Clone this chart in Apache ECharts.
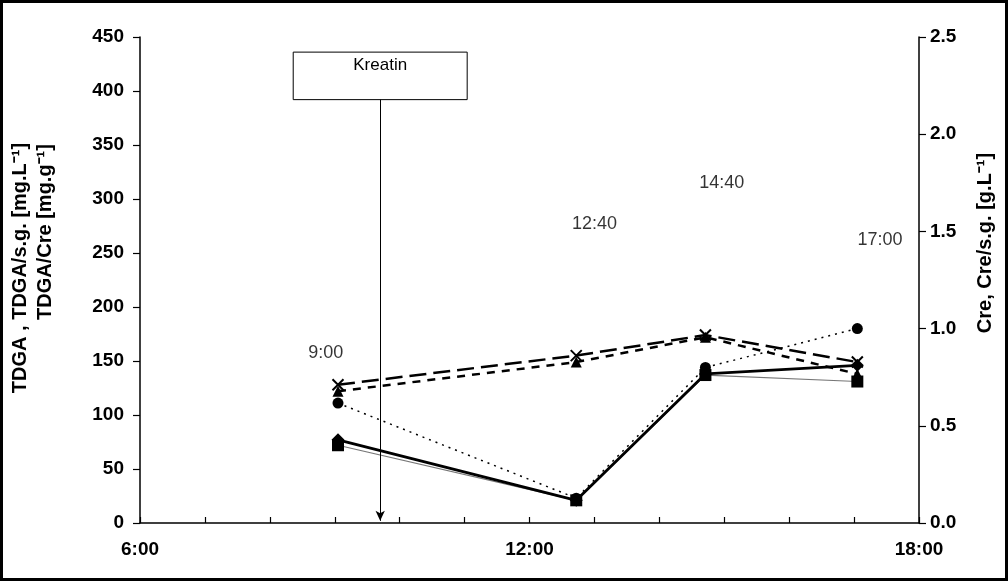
<!DOCTYPE html>
<html><head><meta charset="utf-8">
<script src="https://cdn.jsdelivr.net/npm/echarts@6/dist/echarts.min.js"></script>
<style>html,body{margin:0;padding:0;background:#fff}#c{width:1008px;height:581px}</style>
</head><body><div id="c"></div>
<script>
// sampling times (hours)
const times = [9.05, 12.72, 14.71, 17.05];
const timeLabels = ['9:00', '12:40', '14:40', '17:00'];
// series values (left axis units)
const seriesCross = [128, 155, 174, 149];
const seriesTriangle = [122, 149, 172, 138];
const seriesCircle = [111, 23, 144, 180];
const seriesDiamond = [77, 21, 138, 146];
const seriesSquare = [72, 21, 137, 131];
// time label anchor points [x hours, y value]
const labelPos = [[8.86, 157], [13.0, 277], [14.96, 315], [17.4, 262]];
// Kreatin annotation
const kreatinTime = 9.70;
const kreatinBox = [[8.36, 392], [11.04, 436]];
const xTicks = [6, 12, 18];

const font = 'Liberation Sans, Arial, sans-serif';
const pts = v => times.map((t, i) => [t, v[i]]);
const crossPath = 'path://M0,0L10,10M10,0L0,10';

const chart = echarts.init(document.getElementById('c'));
chart.setOption({
  backgroundColor: '#fff',
  animation: false,
  grid: {left: 140, right: 89, top: 37, bottom: 58},
  xAxis: {
    type: 'value', min: 6, max: 18, interval: 1,
    axisLine: {lineStyle: {color: '#000', width: 1.5}},
    axisTick: {inside: true, length: 6, lineStyle: {color: '#000', width: 1.2}},
    splitLine: {show: false},
    axisLabel: {
      color: '#000', fontFamily: font, fontWeight: 'bold', fontSize: 19, margin: 17,
      formatter: v => xTicks.includes(v) ? v + ':00' : ''
    }
  },
  yAxis: [{
    type: 'value', min: 0, max: 450, interval: 50,
    axisLine: {show: true, lineStyle: {color: '#000', width: 1.5}},
    axisTick: {show: true, length: 7, lineStyle: {color: '#000', width: 1.2}},
    splitLine: {show: false},
    axisLabel: {color: '#000', fontFamily: font, fontWeight: 'bold', fontSize: 19, margin: 16}
  }, {
    type: 'value', min: 0, max: 2.5, interval: 0.5, position: 'right',
    axisLine: {show: true, lineStyle: {color: '#000', width: 1.5}},
    axisTick: {show: true, length: 7, lineStyle: {color: '#000', width: 1.2}},
    splitLine: {show: false},
    axisLabel: {color: '#000', fontFamily: font, fontWeight: 'bold', fontSize: 19, margin: 11,
      formatter: v => v.toFixed(1)}
  }],
  graphic: [
    {type: 'rect', shape: {x: 1.5, y: 1.5, width: 1005, height: 578}, style: {fill: 'none', stroke: '#000', lineWidth: 3}, z: 100},
    {type: 'text', x: 20, y: 268, rotation: Math.PI / 2,
      style: {text: 'TDGA , TDGA/s.g. [mg.L\u207B\u00B9]', font: 'bold 20px ' + font, fill: '#000', textAlign: 'center', textVerticalAlign: 'middle'}},
    {type: 'text', x: 45, y: 232, rotation: Math.PI / 2,
      style: {text: 'TDGA/Cre [mg.g\u207B\u00B9]', font: 'bold 20px ' + font, fill: '#000', textAlign: 'center', textVerticalAlign: 'middle'}},
    {type: 'text', x: 985, y: 243, rotation: Math.PI / 2,
      style: {text: 'Cre, Cre/s.g. [g.L\u207B\u00B9]', font: 'bold 20px ' + font, fill: '#000', textAlign: 'center', textVerticalAlign: 'middle'}}
  ],
  series: [
    {type: 'line', data: pts(seriesCross), symbol: crossPath, symbolSize: 11,
      itemStyle: {color: 'rgba(0,0,0,0)', borderColor: '#000', borderWidth: 2},
      lineStyle: {color: '#000', width: 2.5, type: [17, 7]}, z: 5},
    {type: 'line', data: pts(seriesTriangle), symbol: 'triangle', symbolSize: 11,
      itemStyle: {color: '#000'}, lineStyle: {color: '#000', width: 2.5, type: [8, 7]}, z: 4},
    {type: 'line', data: pts(seriesCircle), symbol: 'circle', symbolSize: 11,
      itemStyle: {color: '#000'}, lineStyle: {color: '#000', width: 1.5, type: [2, 5]}, z: 3},
    {type: 'line', data: pts(seriesSquare), symbol: 'rect', symbolSize: 12,
      itemStyle: {color: '#000'}, lineStyle: {color: '#777', width: 1.2}, z: 2},
    {type: 'line', data: pts(seriesDiamond), symbol: 'diamond', symbolSize: 13,
      itemStyle: {color: '#000'}, lineStyle: {color: '#000', width: 2.8}, z: 6,
      markArea: {silent: true,
        itemStyle: {color: '#fff', borderColor: '#000', borderWidth: 1},
        label: {show: true, position: 'insideTop', distance: 5, color: '#000', fontFamily: font, fontSize: 17},
        data: [[{name: 'Kreatin', coord: kreatinBox[0]}, {coord: kreatinBox[1]}]]},
      markLine: {silent: true, symbol: ['none', 'arrow'], symbolSize: [7, 10],
        lineStyle: {color: '#000', width: 1, type: 'solid'}, label: {show: false},
        data: [[{coord: [kreatinTime, kreatinBox[0][1]]}, {coord: [kreatinTime, 2]}]]}},
    {type: 'scatter', data: labelPos.map((p, i) => ({value: p, name: timeLabels[i]})), symbolSize: 0,
      silent: true,
      label: {show: true, position: 'inside', formatter: '{b}', color: '#000', fontFamily: font, fontSize: 18}}
  ]
});
</script></body></html>
